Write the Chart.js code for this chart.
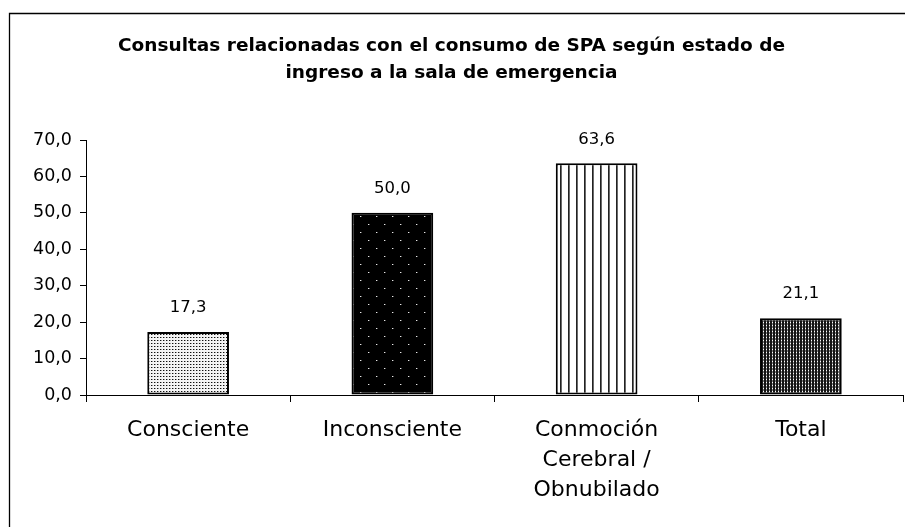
<!DOCTYPE html>
<html>
<head>
<meta charset="utf-8">
<script src="https://cdn.jsdelivr.net/npm/chart.js@4/dist/chart.umd.min.js"></script>
<style>
  html, body { margin: 0; padding: 0; background: #fff; }
  #wrap { width: 905px; height: 527px; position: relative; }
</style>
</head>
<body>
<div id="wrap"><canvas id="c" width="905" height="527"></canvas></div>
<script>
const titleLines = ["Consultas relacionadas con el consumo de SPA según estado de", "ingreso a la sala de emergencia"];
const categories = [["Consciente"], ["Inconsciente"], ["Conmoción", "Cerebral /", "Obnubilado"], ["Total"]];
const values = [17.3, 50.0, 63.6, 21.1];
const yTicks = [0, 10, 20, 30, 40, 50, 60, 70];

function makePattern(w, h, bg, dots) {
  const c = document.createElement('canvas');
  c.width = w; c.height = h;
  const x = c.getContext('2d');
  x.fillStyle = bg; x.fillRect(0, 0, w, h);
  dots.forEach(d => { x.fillStyle = d[2]; x.fillRect(d[0], d[1], d[3] || 1, d[4] || 1); });
  return document.getElementById('c').getContext('2d').createPattern(c, 'repeat');
}
const patConsciente = makePattern(3, 3, '#f4f4f4', [[1, 1, '#111111'], [2, 1, '#9a9a9a']]);
const patInconsciente = makePattern(16, 16, '#000000', [[0, 0, '#e8e8e8'], [1, 0, '#555555'], [8, 8, '#e8e8e8'], [9, 8, '#555555']]);
const patConmocion = makePattern(8, 1, '#ffffff', [[0, 0, '#222222'], [1, 0, '#6a6a6a']]);
const patTotal = makePattern(3, 3, '#141414', [[1, 1, '#ffffff'], [1, 0, '#7a7a7a'], [1, 2, '#7a7a7a']]);

const fmt = v => v.toFixed(1).replace('.', ',');

const frame = {
  id: 'frame',
  beforeDraw(chart) {
    const ctx = chart.ctx;
    ctx.save();
    ctx.fillStyle = '#fff';
    ctx.fillRect(0, 0, chart.width, chart.height);
    ctx.strokeStyle = '#000';
    ctx.lineWidth = 1.3;
    ctx.beginPath();
    ctx.moveTo(9.5, 1000);
    ctx.lineTo(9.5, 13.5);
    ctx.lineTo(1000, 13.5);
    ctx.stroke();
    ctx.restore();
  }
};

const valueLabels = {
  id: 'valueLabels',
  afterDatasetsDraw(chart) {
    const ctx = chart.ctx;
    const meta = chart.getDatasetMeta(0);
    ctx.save();
    ctx.font = '16.5px "DejaVu Sans"';
    ctx.fillStyle = '#000';
    ctx.textAlign = 'center';
    ctx.textBaseline = 'middle';
    meta.data.forEach((bar, i) => {
      ctx.fillText(fmt(values[i]), bar.x, bar.y - 24);
    });
    ctx.restore();
  }
};

new Chart(document.getElementById('c'), {
  type: 'bar',
  data: {
    labels: categories,
    datasets: [{
      data: values,
      backgroundColor: [patConsciente, patInconsciente, patConmocion, patTotal],
      borderColor: '#000',
      borderWidth: 2,
      borderSkipped: false,
      barPercentage: 0.8,
      categoryPercentage: 0.5
    }]
  },
  options: {
    responsive: false,
    animation: false,
    events: [],
    layout: { padding: { left: 0, right: 2, top: 0, bottom: 0 } },
    plugins: {
      legend: { display: false },
      tooltip: { enabled: false },
      title: {
        display: true,
        text: titleLines,
        color: '#000',
        font: { family: '"DejaVu Sans"', size: 18.5, weight: 'bold', lineHeight: '27px' },
        padding: { top: 33, bottom: 53 }
      }
    },
    scales: {
      x: {
        grid: { display: true, drawOnChartArea: false, drawTicks: true, tickLength: 7, color: '#000', offset: true },
        border: { display: true, color: '#000', width: 1 },
        ticks: { color: '#000', padding: 13, maxRotation: 0, autoSkip: false,
                 font: { family: '"DejaVu Sans"', size: 22, lineHeight: '30px' } },
        afterFit(scale) { scale.height = 132; }
      },
      y: {
        min: 0, max: 70,
        afterBuildTicks(scale) { scale.ticks = yTicks.map(v => ({ value: v })); },
        grid: { display: true, drawOnChartArea: false, drawTicks: true, tickLength: 6, color: '#000' },
        border: { display: true, color: '#000', width: 1 },
        ticks: { color: '#000', padding: 8, callback: v => fmt(v),
                 font: { family: '"DejaVu Sans"', size: 17.5 } },
        afterFit(scale) { scale.width = 86; }
      }
    }
  },
  plugins: [frame, valueLabels]
});
</script>
</body>
</html>
